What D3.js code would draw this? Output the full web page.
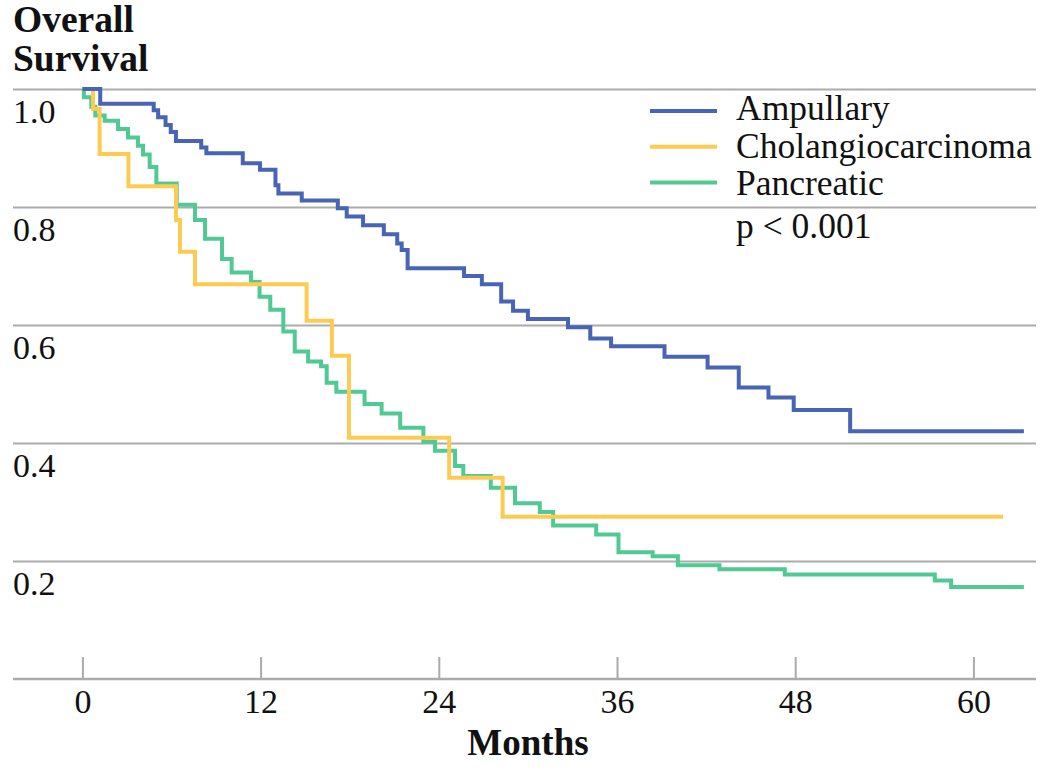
<!DOCTYPE html>
<html>
<head>
<meta charset="utf-8">
<script src="https://cdn.jsdelivr.net/npm/d3@7"></script>
<style>
  html, body { margin: 0; padding: 0; background: #fff; }
  svg { display: block; font-family: "Liberation Serif", "Times New Roman", serif; }
</style>
</head>
<body>
<svg id="chart" width="1050" height="783"></svg>
<script>
// ---- Data (months at which survival steps down, survival after the step) ----
const seriesNames = ["Ampullary", "Cholangiocarcinoma", "Pancreatic"];
const seriesColors = ["#4765b4", "#fecb52", "#50c994"];

const ampullaryMonths = [0, 1.2, 4.8, 5.1, 5.6, 5.95, 6.3, 8.0, 8.35, 10.8, 11.96, 13.0, 13.2, 14.77, 17.2, 17.8, 18.9, 20.3, 21.2, 21.5, 21.9, 25.7, 26.9, 28.2, 29.0, 30.0, 32.7, 34.2, 35.6, 39.2, 42.1, 44.2, 46.2, 47.9, 51.7, 63.4];
const ampullarySurv   = [1.0, 0.975, 0.964, 0.952, 0.939, 0.927, 0.912, 0.901, 0.891, 0.874, 0.863, 0.837, 0.823, 0.811, 0.798, 0.784, 0.769, 0.754, 0.738, 0.727, 0.696, 0.683, 0.669, 0.640, 0.624, 0.610, 0.596, 0.577, 0.564, 0.546, 0.528, 0.494, 0.477, 0.456, 0.420, 0.420];

const cholangioMonths = [0, 0.72, 1.16, 3.1, 6.3, 6.57, 7.58, 15.1, 16.8, 17.95, 24.7, 28.3, 62.0];
const cholangioSurv   = [1.0, 0.966, 0.890, 0.835, 0.778, 0.724, 0.669, 0.607, 0.548, 0.409, 0.341, 0.275, 0.275];

const pancreaticMonths = [0, 0.1, 0.6, 0.87, 1.5, 2.4, 3.07, 3.74, 4.08, 4.53, 4.98, 6.35, 7.58, 8.26, 9.4, 10.05, 11.35, 11.93, 12.65, 13.53, 14.3, 15.2, 16.07, 16.45, 17.1, 19.0, 20.15, 21.4, 22.96, 23.74, 25.09, 25.65, 27.5, 29.13, 30.8, 31.7, 34.6, 36.1, 38.4, 40.1, 42.9, 47.3, 57.4, 58.5, 63.4];
const pancreaticSurv   = [1.0, 0.986, 0.970, 0.955, 0.946, 0.932, 0.918, 0.904, 0.889, 0.868, 0.840, 0.804, 0.778, 0.746, 0.712, 0.689, 0.673, 0.648, 0.626, 0.589, 0.555, 0.538, 0.530, 0.502, 0.487, 0.466, 0.450, 0.426, 0.402, 0.387, 0.361, 0.344, 0.324, 0.298, 0.283, 0.260, 0.245, 0.215, 0.208, 0.193, 0.186, 0.177, 0.167, 0.156, 0.156];

const xTicks = [0, 12, 24, 36, 48, 60];
const yTicks = [0.2, 0.4, 0.6, 0.8, 1.0];
const titleLines = ["Overall", "Survival"];
const xLabel = "Months";
const pText = "p < 0.001";

// ---- Setup ----
const svg = d3.select("#chart");
const gridColor = "#ababab";
const textColor = "#111";
const plotLeft = 13, plotRight = 1036;

const x = d3.scaleLinear().domain([0, 60]).range([82.4, 973.4]);
const y = d3.scaleLinear().domain([0, 1]).range([679, 89]);

// Y gridlines + labels
const yAxis = d3.axisRight(y)
  .tickValues(yTicks)
  .tickSize(plotRight - plotLeft)
  .tickFormat(d3.format(".1f"));
const yg = svg.append("g").attr("transform", `translate(${plotLeft},0)`).call(yAxis);
yg.select(".domain").remove();
yg.selectAll(".tick line").attr("stroke", gridColor).attr("stroke-width", 2);
yg.selectAll(".tick text")
  .attr("x", 0)
  .attr("dy", null)
  .attr("y", 33)
  .attr("text-anchor", "start")
  .attr("fill", textColor)
  .style("font-size", "34px")
  .style("font-family", "Liberation Serif, serif");

// X axis baseline
svg.append("line")
  .attr("x1", plotLeft).attr("x2", plotRight)
  .attr("y1", y(0)).attr("y2", y(0))
  .attr("stroke", gridColor).attr("stroke-width", 2.5);

const xAxis = d3.axisBottom(x)
  .tickValues(xTicks)
  .tickSizeInner(-22)
  .tickSizeOuter(0)
  .tickPadding(10);
const xg = svg.append("g").attr("transform", `translate(0,${y(0)})`).call(xAxis);
xg.select(".domain").remove();
xg.selectAll(".tick line").attr("stroke", gridColor).attr("stroke-width", 2);
xg.selectAll(".tick text")
  .attr("fill", textColor)
  .style("font-size", "34px")
  .style("font-family", "Liberation Serif, serif");

// X axis title
svg.append("text")
  .attr("x", 528)
  .attr("y", 755)
  .attr("text-anchor", "middle")
  .attr("fill", textColor)
  .style("font-size", "37px")
  .style("font-weight", "bold")
  .text(xLabel);

// Y title (two lines, top-left)
svg.append("text")
  .attr("x", plotLeft)
  .attr("fill", textColor)
  .style("font-size", "37.5px")
  .style("font-weight", "bold")
  .selectAll("tspan")
  .data(titleLines)
  .join("tspan")
  .attr("x", plotLeft)
  .attr("y", (d, i) => 31.5 + i * 39.5)
  .text(d => d);

// ---- Curves ----
const seriesData = [
  ampullaryMonths.map((m, i) => [m, ampullarySurv[i]]),
  cholangioMonths.map((m, i) => [m, cholangioSurv[i]]),
  pancreaticMonths.map((m, i) => [m, pancreaticSurv[i]])
];

const line = d3.line()
  .x(d => x(d[0]))
  .y(d => y(d[1]))
  .curve(d3.curveStepAfter);

const drawOrder = [2, 1, 0];
svg.append("g")
  .selectAll("path")
  .data(drawOrder)
  .join("path")
  .attr("d", i => line(seriesData[i]))
  .attr("fill", "none")
  .attr("stroke", i => seriesColors[i])
  .attr("stroke-width", 4)
  .attr("stroke-linejoin", "miter")
  .attr("stroke-linecap", "butt");

// ---- Legend ----
const legend = svg.append("g");
const rows = legend.selectAll("g")
  .data(seriesNames)
  .join("g");
rows.append("line")
  .attr("x1", 650).attr("x2", 717)
  .attr("y1", (d, i) => 111 + i * 35.7)
  .attr("y2", (d, i) => 111 + i * 35.7)
  .attr("stroke", (d, i) => seriesColors[i])
  .attr("stroke-width", 4);
rows.append("text")
  .attr("x", 736)
  .attr("y", (d, i) => 120 + i * 37.5)
  .attr("fill", textColor)
  .style("font-size", "35.5px")
  .text(d => d);

legend.append("text")
  .attr("x", 736)
  .attr("y", 238)
  .attr("fill", textColor)
  .style("font-size", "35.5px")
  .text(pText);
</script>
</body>
</html>
